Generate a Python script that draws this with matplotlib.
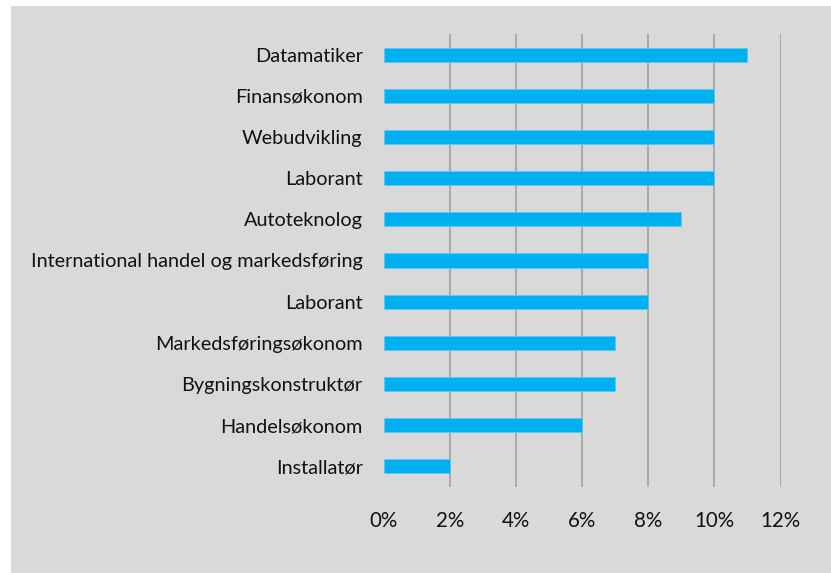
import matplotlib.pyplot as plt
from matplotlib.patches import Rectangle
import numpy as np

plt.rcParams.update({
    "font.family": ["Lato", "DejaVu Sans"],
    "font.size": 14.3,
})

# data, top to bottom as shown in the chart
categories = [
    "Datamatiker",
    "Finansøkonom",
    "Webudvikling",
    "Laborant",
    "Autoteknolog",
    "International handel og markedsføring",
    "Laborant",
    "Markedsføringsøkonom",
    "Bygningskonstruktør",
    "Handelsøkonom",
    "Installatør",
]
shares = [11, 10, 10, 10, 9, 8, 8, 7, 7, 6, 2]  # percent
x_ticks = [0, 2, 4, 6, 8, 10, 12]

BG = "#d9d9d9"
BAR = "#00b0f0"
GRID = "#a6a6a6"

fig = plt.figure(figsize=(8.31, 5.73), dpi=100, facecolor="white")
# grey chart area inside a thin white border
fig.patches.append(Rectangle((11 / 831, 0), 1 - 11 / 831, 1 - 6 / 573,
                             transform=fig.transFigure, facecolor=BG,
                             edgecolor="none", zorder=-10))

ax = fig.add_axes([383.5 / 831, 86 / 573, (780.5 - 383.5) / 831, (539 - 86) / 573])
ax.set_facecolor("none")

y = np.arange(len(categories))
ax.barh(y, shares, height=0.34, color=BAR, edgecolor="#5cc8f2",
        linewidth=0.6, zorder=3)

ax.set_ylim(len(categories) - 0.5, -0.5)
ax.set_xlim(0, 12)
ax.set_xticks(x_ticks)
ax.set_xticklabels([f"{t}%" for t in x_ticks], fontsize=14.8)
ax.set_yticks(y)
ax.set_yticklabels(categories)

for t in x_ticks[1:]:
    ax.axvline(t, color=GRID, lw=1.3, zorder=1)

for s in ax.spines.values():
    s.set_visible(False)
ax.tick_params(axis="both", length=0, colors="#111111")
ax.tick_params(axis="x", pad=17)
ax.tick_params(axis="y", pad=15)

fig.savefig("out.png", dpi=100, facecolor=fig.get_facecolor())
